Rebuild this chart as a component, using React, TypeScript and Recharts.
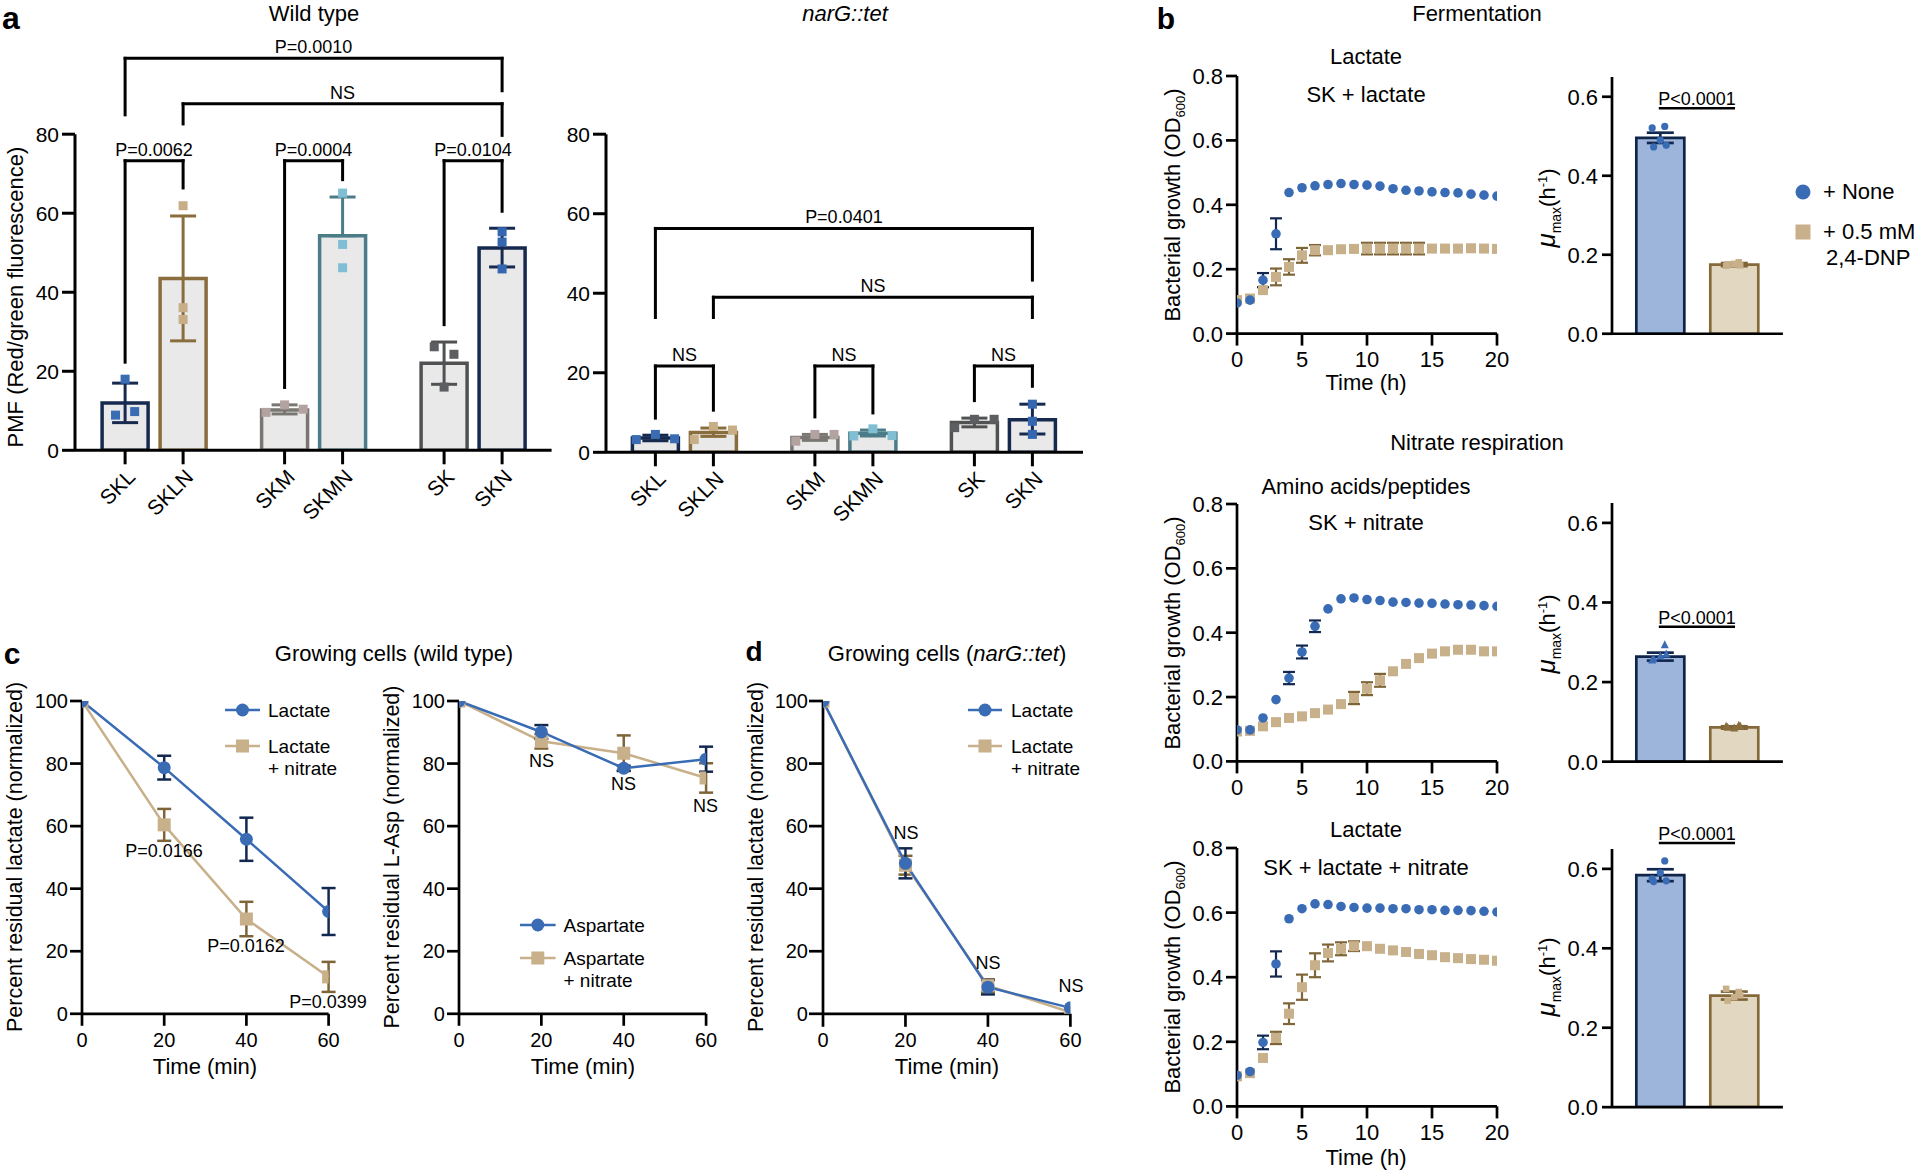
import React from 'react';
import { ComposedChart, Bar, Cell, XAxis, YAxis, Scatter, ErrorBar, ReferenceLine, Line } from 'recharts';

const FONT = '"Liberation Sans", Arial, Helvetica, sans-serif';
const BLUE = '#3a6cb5';
const NAVY = '#13284f';
const TAN = '#c8b08a';
const BROWN = '#7e6538';

// ================= Panel a =================
const catLabels = ['SKL', 'SKLN', 'SKM', 'SKMN', 'SK', 'SKN'];
const catPos = [1, 2, 3.75, 4.75, 6.5, 7.5];
const pmfTicks = [0, 20, 40, 60, 80];

const wtMean = [12.0, 43.5, 10.2, 54.3, 22.0, 51.2];
const wtErrLow = [5.0, 15.8, 1.0, 0, 5.3, 4.8];
const wtErrHigh = [5.0, 15.8, 1.3, 9.8, 5.4, 5.0];
const wtPoints = [[8.9, 18.0, 9.8], [61.9, 36.1, 33.1], [9.6, 11.5, 10.4], [65.1, 52.1, 46.2], [26.2, 16.0, 24.3], [55.3, 52.7, 45.9]];
const wtJitter = [[-0.165, 0, 0.165], [0, 0, 0], [-0.32, 0, 0.32], [0, 0, 0], [-0.17, 0, 0.17], [0, 0, 0]];

const ngMean = [3.6, 5.0, 3.7, 4.8, 7.5, 8.2];
const ngErrLow = [0.7, 1.0, 0.7, 0.7, 1.1, 3.6];
const ngErrHigh = [0.7, 1.1, 0.8, 0.8, 1.1, 3.9];
const ngPoints = [[3.2, 4.5, 3.4], [3.2, 6.5, 5.6], [2.8, 4.5, 4.5], [4.1, 5.9, 4.2], [6.2, 8.3, 8.3], [12.1, 7.8, 4.5]];
const ngJitter = [[-0.33, 0, 0.33], [-0.33, 0, 0.33], [-0.33, 0, 0.33], [-0.33, 0, 0.33], [-0.34, 0, 0.34], [0, 0, 0]];

const barStroke = ['#16294f', '#8a6d3c', '#7a7772', '#4b7c87', '#505153', '#16294f'];
const ptColor = ['#3a6cb4', '#c8ae86', '#b3a3a0', '#80bfd3', '#5d5e61', '#3567b1'];

// brackets: from index, to index, bar height, left leg end, right leg end, text
const wtBrackets = [
  { a: 0, b: 5, y: 99.2, la: 84.9, lb: 91.0, t: 'P=0.0010' },
  { a: 1, b: 5, y: 87.7, la: 82.6, lb: 79.7, t: 'NS' },
  { a: 0, b: 1, y: 73.3, la: 22.3, lb: 66.4, t: 'P=0.0062' },
  { a: 2, b: 3, y: 73.3, la: 15.9, lb: 68.5, t: 'P=0.0004' },
  { a: 4, b: 5, y: 73.3, la: 31.8, lb: 60.5, t: 'P=0.0104' },
];
const ngBrackets = [
  { a: 0, b: 5, y: 56.3, la: 33.9, lb: 43.3, t: 'P=0.0401' },
  { a: 1, b: 5, y: 39.0, la: 33.9, lb: 33.9, t: 'NS' },
  { a: 0, b: 1, y: 21.7, la: 8.6, lb: 10.6, t: 'NS' },
  { a: 2, b: 3, y: 21.7, la: 8.9, lb: 9.9, t: 'NS' },
  { a: 4, b: 5, y: 21.7, la: 13.0, lb: 16.6, t: 'NS' },
];

// ================= Panel b =================
const hours = [0, 1, 2, 3, 4, 5, 6, 7, 8, 9, 10, 11, 12, 13, 14, 15, 16, 17, 18, 19, 20];
const hourTicks = [0, 5, 10, 15, 20];
const odTicks = [0, 0.2, 0.4, 0.6, 0.8];

const fermNone = [0.095, 0.104, 0.166, 0.31, 0.438, 0.453, 0.459, 0.463, 0.466, 0.463, 0.461, 0.458, 0.45, 0.445, 0.443, 0.44, 0.438, 0.437, 0.433, 0.43, 0.427];
const fermNoneErr = [0, 0, 0.022, 0.048, 0, 0, 0, 0, 0, 0, 0, 0, 0, 0, 0, 0, 0, 0, 0, 0, 0];
const fermDnp = [0.104, 0.109, 0.135, 0.176, 0.207, 0.243, 0.259, 0.259, 0.262, 0.263, 0.264, 0.264, 0.264, 0.264, 0.264, 0.264, 0.264, 0.264, 0.265, 0.264, 0.263];
const fermDnpErr = [0, 0, 0, 0.026, 0.024, 0.023, 0.016, 0, 0, 0, 0.018, 0.018, 0.018, 0.018, 0.018, 0, 0, 0, 0, 0, 0];

const nitNone = [0.098, 0.098, 0.135, 0.192, 0.259, 0.34, 0.42, 0.474, 0.505, 0.508, 0.503, 0.5, 0.495, 0.494, 0.492, 0.491, 0.489, 0.487, 0.486, 0.484, 0.482];
const nitNoneErr = [0, 0, 0, 0, 0.019, 0.02, 0.018, 0, 0, 0, 0, 0, 0, 0, 0, 0, 0, 0, 0, 0, 0];
const nitDnp = [0.093, 0.095, 0.109, 0.122, 0.135, 0.14, 0.15, 0.161, 0.178, 0.197, 0.226, 0.252, 0.28, 0.303, 0.321, 0.335, 0.342, 0.347, 0.347, 0.342, 0.342];
const nitDnpErr = [0, 0, 0, 0, 0, 0, 0, 0, 0, 0.019, 0.02, 0.02, 0, 0, 0, 0, 0, 0, 0, 0, 0];

const lnNone = [0.096, 0.108, 0.198, 0.441, 0.581, 0.612, 0.627, 0.625, 0.619, 0.616, 0.614, 0.614, 0.612, 0.612, 0.609, 0.609, 0.607, 0.607, 0.606, 0.604, 0.602];
const lnNoneErr = [0, 0, 0.021, 0.039, 0, 0, 0, 0, 0, 0, 0, 0, 0, 0, 0, 0, 0, 0, 0, 0, 0];
const lnDnp = [0.093, 0.103, 0.15, 0.212, 0.287, 0.369, 0.437, 0.475, 0.488, 0.496, 0.496, 0.488, 0.483, 0.478, 0.472, 0.468, 0.462, 0.459, 0.456, 0.454, 0.451];
const lnDnpErr = [0, 0, 0, 0.019, 0.032, 0.039, 0.037, 0.026, 0.02, 0.015, 0, 0, 0, 0, 0, 0, 0, 0, 0, 0, 0];

const muPos = [1, 2];
const muTicks = [0, 0.2, 0.4, 0.6];
const muJitter = [-0.11, 0.06, -0.09, 0.08, 0];
const muFerm = [0.496, 0.175];
const muFermErr = [0.013, 0.004];
const muFermNonePts = [0.521, 0.525, 0.473, 0.477, 0.49];
const muFermDnpPts = [0.172, 0.181, 0.176, 0.173, 0.177];
const muNit = [0.264, 0.086];
const muNitErr = [0.01, 0.003];
const muNitNonePts = [0.255, 0.293, 0.258, 0.27, 0.265];
const muNitDnpPts = [0.088, 0.091, 0.086, 0.089, 0.084];
const muLn = [0.584, 0.281];
const muLnErr = [0.015, 0.01];
const muLnNonePts = [0.575, 0.62, 0.568, 0.57, 0.59];
const muLnDnpPts = [0.298, 0.29, 0.268, 0.282, 0.277];

// ================= Panels c, d =================
const minutes = [0, 20, 40, 60];
const pctTicks = [0, 20, 40, 60, 80, 100];
const cLactate = [100, 78.7, 55.8, 32.7];
const cLactateErr = [0, 3.8, 6.9, 7.5];
const cLactateNit = [100, 60.4, 30.3, 11.8];
const cLactateNitErr = [0, 5.1, 5.5, 4.8];
const cAsp = [100, 90.1, 78.5, 81.4];
const cAspErr = [0, 2.2, 0.8, 4.0];
const cAspNit = [100, 87.1, 83.3, 75.4];
const cAspNitErr = [0, 2.3, 5.7, 4.7];
const dLactate = [100, 48.1, 8.5, 1.9];
const dLactateErr = [0, 4.8, 2.3, 0];
const dLactateNit = [100, 47.5, 9.0, 0.5];
const dLactateNitErr = [0, 3.0, 2.0, 0];

// ================= helpers =================
type Margin = { top: number; right: number; bottom: number; left: number };

// Places a chart so that its plot area lands on (x0,y0)-(x1,y1) of the page.
// The y axis occupies the left space (width yW) and the x axis the bottom space (height xH).
function Frame({ x0, y0, x1, y1, m, render }: { x0: number; y0: number; x1: number; y1: number; m: Margin; render: (w: number, h: number, cm: Margin, yW: number, xH: number) => React.ReactNode }) {
  const w = x1 - x0 + m.left + m.right;
  const h = y1 - y0 + m.top + m.bottom;
  const cm = { top: m.top, right: m.right, bottom: 1, left: 1 };
  return <div style={{ position: 'absolute', left: x0 - m.left, top: y0 - m.top, width: w, height: h }}>{render(w, h, cm, m.left - 1, m.bottom - 1)}</div>;
}

function T({ x, y, fs = 22, anchor = 'middle', rot = 0, italic = false, bold = false, children }: any) {
  const tx = anchor === 'middle' ? '-50%' : anchor === 'start' ? '0px' : '-100%';
  const origin = anchor === 'middle' ? '50% 50%' : anchor === 'start' ? '0% 50%' : '100% 50%';
  let tr = `translate(${tx},-50%)`;
  if (rot) tr += ` rotate(${rot}deg)`;
  return (
    <div style={{ position: 'absolute', left: x, top: y, transform: tr, transformOrigin: origin, fontSize: fs, lineHeight: 1, whiteSpace: 'nowrap', fontStyle: italic ? 'italic' : 'normal', fontWeight: bold ? 'bold' : 'normal', color: '#000', fontFamily: FONT }}>
      {children}
    </div>
  );
}

function LegSym({ x1, x2, y, color, kind, line, s = 13 }: any) {
  const w = x2 - x1;
  return (
    <svg style={{ position: 'absolute', left: x1, top: y - 10 }} width={w} height={20}>
      {line && <line x1={0} y1={10} x2={w} y2={10} stroke={color} strokeWidth={2.5} />}
      {kind === 'c' ? <circle cx={w / 2} cy={10} r={s / 2} fill={color} /> : <rect x={w / 2 - s / 2} y={10 - s / 2} width={s} height={s} fill={color} />}
    </svg>
  );
}

const yTick = (fs: number, dec: number) => (p: any) => (
  <text x={p.x} y={p.y} dy="0.36em" textAnchor="end" fontSize={fs} fontFamily={FONT} fill="#000">{Number(p.payload.value).toFixed(dec)}</text>
);
const xTick = (fs: number, dec: number) => (p: any) => (
  <text x={p.x} y={p.y} dy="0.71em" textAnchor="middle" fontSize={fs} fontFamily={FONT} fill="#000">{Number(p.payload.value).toFixed(dec)}</text>
);
const catTick = (p: any) => {
  const i = catPos.indexOf(p.payload.value);
  return (
    <text x={0} y={0} transform={`translate(${p.x + 11.5},${p.y + 12}) rotate(-45)`} textAnchor="end" fontSize={21} fontFamily={FONT} fill="#000">{catLabels[i]}</text>
  );
};

const sqShape = (size: number, color: string) => (p: any) => <rect x={p.cx - size / 2} y={p.cy - size / 2} width={size} height={size} fill={color} />;
const circShape = (r: number, color: string) => (p: any) => <circle cx={p.cx} cy={p.cy} r={r} fill={color} />;
const triShape = (s: number, color: string) => (p: any) => (
  <polygon points={`${p.cx},${p.cy - s * 0.6} ${p.cx - s / 2},${p.cy + s * 0.4} ${p.cx + s / 2},${p.cy + s * 0.4}`} fill={color} />
);
const noShape = () => <g />;
const sqDot = (size: number, color: string) => (p: any) => (
  <rect key={`sq-${p.index}`} x={p.cx - size / 2} y={p.cy - size / 2} width={size} height={size} fill={color} />
);

// ================= Charts =================
function PmfChart({ x0, x1, y0, y1, domain, mean, lo, hi, pts, jit, brackets }: any) {
  const m = { top: y0 - 20, right: 6, bottom: 105, left: 62 };
  const bars = catPos.map((x, i) => ({ x, y: mean[i] }));
  const ax = { stroke: '#000', strokeWidth: 3 };
  return (
    <Frame x0={x0} y0={y0} x1={x1} y1={y1} m={m} render={(w, h, cm, yW, xH) => (
      <ComposedChart width={w} height={h} margin={cm} data={bars}>
        <XAxis xAxisId="b" type="number" dataKey="x" domain={domain} ticks={catPos} interval={0} height={xH} tickSize={14} tickMargin={2} axisLine={ax} tickLine={ax} tick={catTick} allowDataOverflow />
        <XAxis xAxisId="p" type="number" dataKey="x" domain={domain} hide allowDataOverflow />
        <YAxis type="number" dataKey="y" domain={[0, 80]} ticks={pmfTicks} interval={0} width={yW} tickSize={13} tickMargin={3} axisLine={ax} tickLine={ax} tick={yTick(21, 0)} allowDataOverflow />
        <Bar xAxisId="b" dataKey="y" barSize={46} strokeWidth={3.5} isAnimationActive={false}>
          {catPos.map((_, i) => <Cell key={i} fill="#e9e9e9" stroke={barStroke[i]} />)}
        </Bar>
        {catPos.map((x, i) => (
          <Scatter key={'e' + i} xAxisId="p" data={[{ x, y: mean[i], e: [lo[i], hi[i]] }]} shape={noShape} isAnimationActive={false}>
            <ErrorBar dataKey="e" direction="y" width={13} stroke={barStroke[i]} strokeWidth={3} />
          </Scatter>
        ))}
        {catPos.map((x, i) => (
          <Scatter key={'p' + i} xAxisId="p" data={pts[i].map((v: number, j: number) => ({ x: x + jit[i][j], y: v }))} shape={sqShape(9, ptColor[i])} isAnimationActive={false} />
        ))}
        {brackets.map((b: any, k: number) => {
          const xa = catPos[b.a];
          const xb = catPos[b.b];
          const st = { stroke: '#000', strokeWidth: 3, strokeLinecap: 'square' as const, ifOverflow: 'visible' as const };
          return [
            <ReferenceLine key={k + 'h'} xAxisId="b" segment={[{ x: xa, y: b.y }, { x: xb, y: b.y }]} {...st}
              label={{ value: b.t, position: 'top', offset: 5, fontSize: 18, fill: '#000', fontFamily: FONT }} />,
            <ReferenceLine key={k + 'l'} xAxisId="b" segment={[{ x: xa, y: b.y }, { x: xa, y: b.la }]} {...st} />,
            <ReferenceLine key={k + 'r'} xAxisId="b" segment={[{ x: xb, y: b.y }, { x: xb, y: b.lb }]} {...st} />,
          ];
        })}
      </ComposedChart>
    )} />
  );
}

function GrowthChart({ y0, y1, none, noneErr, dnp, dnpErr }: any) {
  const m = { top: 22, right: 14, bottom: 40, left: 52 };
  const rn = hours.map((t, i) => ({ x: t, y: none[i], e: noneErr[i] }));
  const rd = hours.map((t, i) => ({ x: t, y: dnp[i], e: dnpErr[i] }));
  const ax = { stroke: '#000', strokeWidth: 2.7 };
  return (
    <Frame x0={1237} y0={y0} x1={1497} y1={y1} m={m} render={(w, h, cm, yW, xH) => (
      <ComposedChart width={w} height={h} margin={cm}>
        <XAxis type="number" dataKey="x" domain={[0, 20]} ticks={hourTicks} interval={0} height={xH} tickSize={12} tickMargin={6} axisLine={ax} tickLine={ax} tick={xTick(22, 0)} allowDataOverflow />
        <YAxis type="number" dataKey="y" domain={[0, 0.8]} ticks={odTicks} interval={0} width={yW} tickSize={11} tickMargin={3} axisLine={ax} tickLine={ax} tick={yTick(22, 1)} allowDataOverflow />
        <Scatter data={rd} shape={sqShape(10, TAN)} isAnimationActive={false}>
          <ErrorBar dataKey="e" direction="y" width={6} stroke={BROWN} strokeWidth={2.2} />
        </Scatter>
        <Scatter data={rn} shape={circShape(4.8, BLUE)} isAnimationActive={false}>
          <ErrorBar dataKey="e" direction="y" width={6} stroke={NAVY} strokeWidth={2.2} />
        </Scatter>
      </ComposedChart>
    )} />
  );
}

function MuChart({ y0, y1, vals, errs, ptsA, ptsB, shapeA, shapeB, uy }: any) {
  const m = { top: 45, right: 6, bottom: 18, left: 52 };
  const domain = [0.347, 2.657];
  const bars = muPos.map((x, i) => ({ x, y: vals[i] }));
  const ax = { stroke: '#000', strokeWidth: 2.7 };
  const errColors = [NAVY, BROWN];
  const ptSets = [ptsA, ptsB];
  const shapes = [shapeA, shapeB];
  return (
    <Frame x0={1611.7} y0={y0} x1={1782.6} y1={y1} m={m} render={(w, h, cm, yW, xH) => (
      <ComposedChart width={w} height={h} margin={cm} data={bars}>
        <XAxis xAxisId="b" type="number" dataKey="x" domain={domain} ticks={muPos} interval={0} height={xH} tick={false} tickLine={false} axisLine={ax} allowDataOverflow />
        <XAxis xAxisId="p" type="number" dataKey="x" domain={domain} hide allowDataOverflow />
        <YAxis type="number" dataKey="y" domain={[0, 0.65]} ticks={muTicks} interval={0} width={yW} tickSize={10} tickMargin={4} axisLine={ax} tickLine={ax} tick={yTick(22, 1)} allowDataOverflow />
        <Bar xAxisId="b" dataKey="y" barSize={48} strokeWidth={2.7} isAnimationActive={false}>
          <Cell fill="#9db5da" stroke="#10244a" />
          <Cell fill="#e2d7c1" stroke="#86693a" />
        </Bar>
        {muPos.map((x, i) => (
          <Scatter key={'p' + i} xAxisId="p" data={ptSets[i].map((v: number, j: number) => ({ x: x + muJitter[j], y: v }))} shape={shapes[i]} isAnimationActive={false} />
        ))}
        {muPos.map((x, i) => (
          <Scatter key={'e' + i} xAxisId="p" data={[{ x, y: vals[i], e: errs[i] }]} shape={noShape} isAnimationActive={false}>
            <ErrorBar dataKey="e" direction="y" width={13.5} stroke={errColors[i]} strokeWidth={2.7} />
          </Scatter>
        ))}
        <ReferenceLine xAxisId="b" segment={[{ x: 0.98, y: uy }, { x: 2.01, y: uy }]} stroke="#000" strokeWidth={2.5} ifOverflow="visible"
          label={{ value: 'P<0.0001', position: 'top', offset: 3, fontSize: 18, fill: '#000', fontFamily: FONT }} />
      </ComposedChart>
    )} />
  );
}

function TimeChart({ x0, x1, a, ae, b, be, ySize, yMargin, xSize, xMargin }: any) {
  const y0 = 700.5;
  const y1 = 1013.3;
  const rows = minutes.map((t, i) => ({ x: t, a: a[i], ae: ae[i], b: b[i], be: be[i] }));
  const m = { top: 16, right: 16, bottom: 40, left: 62 };
  const ax = { stroke: '#000', strokeWidth: 2.7 };
  return (
    <Frame x0={x0} y0={y0} x1={x1} y1={y1} m={m} render={(w, h, cm, yW, xH) => (
      <ComposedChart width={w} height={h} margin={cm} data={rows}>
        <XAxis type="number" dataKey="x" domain={[0, 60]} ticks={minutes} interval={0} height={xH} tickSize={xSize} tickMargin={xMargin} axisLine={ax} tickLine={ax} tick={xTick(20, 0)} allowDataOverflow />
        <YAxis type="number" domain={[0, 100]} ticks={pctTicks} interval={0} width={yW} tickSize={ySize} tickMargin={yMargin} axisLine={ax} tickLine={ax} tick={yTick(20, 0)} allowDataOverflow />
        <Line type="linear" dataKey="b" stroke={TAN} strokeWidth={2.5} dot={sqDot(13, TAN)} activeDot={false} isAnimationActive={false}>
          <ErrorBar dataKey="be" direction="y" width={7} stroke={BROWN} strokeWidth={2.5} />
        </Line>
        <Line type="linear" dataKey="a" stroke={BLUE} strokeWidth={2.5} dot={{ r: 6.5, fill: BLUE, stroke: 'none' }} activeDot={false} isAnimationActive={false}>
          <ErrorBar dataKey="ae" direction="y" width={7} stroke={NAVY} strokeWidth={2.5} />
        </Line>
      </ComposedChart>
    )} />
  );
}

const ODLabel = () => (
  <span>Bacterial growth (OD<span style={{ fontSize: 13, position: 'relative', top: 5 }}>600</span>)</span>
);
const MuLabel = () => (
  <span><i style={{ fontSize: 26 }}>μ</i><span style={{ fontSize: 14, position: 'relative', top: 6 }}>max</span>(h<span style={{ fontSize: 13, position: 'relative', top: -8 }}>-1</span>)</span>
);

export default function App() {
  return (
    <div style={{ position: 'absolute', left: 0, top: 0, width: 1920, height: 1176, background: '#fff', overflow: 'hidden', fontFamily: FONT }}>
      {/* ---------- panel a ---------- */}
      <T x={11} y={18} fs={32} bold>a</T>
      <T x={314} y={14} fs={22}>Wild type</T>
      <T x={845} y={14} fs={22} italic>narG::tet</T>
      <T x={16} y={297} fs={22} rot={-90}>PMF (Red/green fluorescence)</T>
      <PmfChart x0={75.4} x1={552} y0={134.2} y1={450.3} domain={[(75.4 - 67.5) / 58, (552 - 67.5) / 58]}
        mean={wtMean} lo={wtErrLow} hi={wtErrHigh} pts={wtPoints} jit={wtJitter} brackets={wtBrackets} />
      <PmfChart x0={606} x1={1083} y0={134.2} y1={452.3} domain={[(606 - 597.4) / 58, (1083 - 597.4) / 58]}
        mean={ngMean} lo={ngErrLow} hi={ngErrHigh} pts={ngPoints} jit={ngJitter} brackets={ngBrackets} />

      {/* ---------- panel b ---------- */}
      <T x={1166} y={19} fs={30} bold>b</T>
      <T x={1477} y={14}>Fermentation</T>
      <T x={1366} y={57}>Lactate</T>
      <T x={1366} y={95}>SK + lactate</T>
      <T x={1173} y={205} rot={-90}><ODLabel /></T>
      <GrowthChart y0={75.7} y1={333.3} none={fermNone} noneErr={fermNoneErr} dnp={fermDnp} dnpErr={fermDnpErr} />
      <T x={1366} y={383}>Time (h)</T>
      <T x={1546} y={208} rot={-90}><MuLabel /></T>
      <MuChart y0={333.3 - 0.65 * 395} y1={333.3} vals={muFerm} errs={muFermErr} ptsA={muFermNonePts} ptsB={muFermDnpPts}
        shapeA={circShape(3.6, BLUE)} shapeB={sqShape(6.5, TAN)} uy={0.571} />
      <LegSym x1={1793} x2={1813} y={192} color={BLUE} kind="c" s={15} />
      <T x={1823} y={192} anchor="start">+ None</T>
      <LegSym x1={1793} x2={1813} y={232} color={TAN} kind="s" s={15} />
      <T x={1823} y={232} anchor="start">+ 0.5 mM</T>
      <T x={1826} y={258} anchor="start">2,4-DNP</T>

      <T x={1477} y={443}>Nitrate respiration</T>
      <T x={1366} y={487}>Amino acids/peptides</T>
      <T x={1366} y={523}>SK + nitrate</T>
      <T x={1173} y={633} rot={-90}><ODLabel /></T>
      <GrowthChart y0={504.3} y1={761.7} none={nitNone} noneErr={nitNoneErr} dnp={nitDnp} dnpErr={nitDnpErr} />
      <T x={1546} y={634} rot={-90}><MuLabel /></T>
      <MuChart y0={761.7 - 0.65 * 398} y1={761.7} vals={muNit} errs={muNitErr} ptsA={muNitNonePts} ptsB={muNitDnpPts}
        shapeA={triShape(8, BLUE)} shapeB={triShape(8, '#8a6d3c')} uy={0.339} />

      <T x={1366} y={830}>Lactate</T>
      <T x={1366} y={868}>SK + lactate + nitrate</T>
      <T x={1173} y={977} rot={-90}><ODLabel /></T>
      <GrowthChart y0={848.3} y1={1106.7} none={lnNone} noneErr={lnNoneErr} dnp={lnDnp} dnpErr={lnDnpErr} />
      <T x={1366} y={1158}>Time (h)</T>
      <T x={1546} y={977} rot={-90}><MuLabel /></T>
      <MuChart y0={1106.7 - 0.65 * 397.2} y1={1106.7} vals={muLn} errs={muLnErr} ptsA={muLnNonePts} ptsB={muLnDnpPts}
        shapeA={circShape(3.6, BLUE)} shapeB={sqShape(6.5, TAN)} uy={0.665} />

      {/* ---------- panel c ---------- */}
      <T x={12} y={654} fs={30} bold>c</T>
      <T x={394} y={654}>Growing cells (wild type)</T>
      <T x={16} y={857} fs={21.5} rot={-90}>Percent residual lactate (normalized)</T>
      <TimeChart x0={81.7} x1={328.3} a={cLactate} ae={cLactateErr} b={cLactateNit} be={cLactateNitErr} ySize={12} yMargin={2} xSize={12} xMargin={7} />
      <T x={205} y={1067}>Time (min)</T>
      <LegSym x1={225} x2={260} y={710} color={BLUE} kind="c" line />
      <T x={268} y={710} fs={19} anchor="start">Lactate</T>
      <LegSym x1={225} x2={260} y={746} color={TAN} kind="s" line />
      <T x={268} y={746} fs={19} anchor="start">Lactate</T>
      <T x={268} y={768} fs={19} anchor="start">+ nitrate</T>
      <T x={164} y={851} fs={18}>P=0.0166</T>
      <T x={246} y={946} fs={18}>P=0.0162</T>
      <T x={328} y={1002} fs={18}>P=0.0399</T>

      <T x={393} y={857} fs={21.5} rot={-90}>Percent residual L-Asp (normalized)</T>
      <TimeChart x0={458.5} x1={705.6} a={cAsp} ae={cAspErr} b={cAspNit} be={cAspNitErr} ySize={12} yMargin={2} xSize={12} xMargin={7} />
      <T x={583} y={1067}>Time (min)</T>
      <T x={541.5} y={761} fs={18}>NS</T>
      <T x={623.5} y={784} fs={18}>NS</T>
      <T x={705.6} y={806} fs={18}>NS</T>
      <LegSym x1={520} x2={555.6} y={925} color={BLUE} kind="c" line />
      <T x={563.5} y={925} fs={19} anchor="start">Aspartate</T>
      <LegSym x1={520} x2={555.6} y={958} color={TAN} kind="s" line />
      <T x={563.5} y={958} fs={19} anchor="start">Aspartate</T>
      <T x={563.5} y={980} fs={19} anchor="start">+ nitrate</T>

      {/* ---------- panel d ---------- */}
      <T x={754} y={652} fs={28} bold>d</T>
      <T x={947} y={654}>Growing cells (<i>narG::tet</i>)</T>
      <T x={757} y={857} fs={21.5} rot={-90}>Percent residual lactate (normalized)</T>
      <TimeChart x0={823.3} x1={1070.7} a={dLactate} ae={dLactateErr} b={dLactateNit} be={dLactateNitErr} ySize={14} yMargin={1} xSize={13} xMargin={6} />
      <T x={947} y={1067}>Time (min)</T>
      <T x={906} y={833} fs={18}>NS</T>
      <T x={988} y={963} fs={18}>NS</T>
      <T x={1071} y={986} fs={18}>NS</T>
      <LegSym x1={968} x2={1002} y={710} color={BLUE} kind="c" line />
      <T x={1011} y={710} fs={19} anchor="start">Lactate</T>
      <LegSym x1={968} x2={1002} y={746} color={TAN} kind="s" line />
      <T x={1011} y={746} fs={19} anchor="start">Lactate</T>
      <T x={1011} y={768} fs={19} anchor="start">+ nitrate</T>
    </div>
  );
}
